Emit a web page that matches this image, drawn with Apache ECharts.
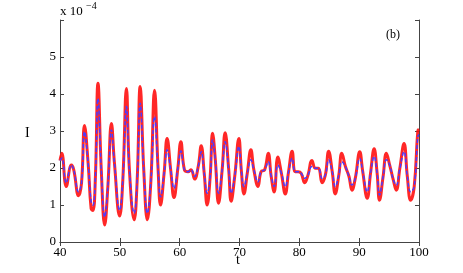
<!DOCTYPE html>
<html><head><meta charset="utf-8">
<script src="https://cdn.jsdelivr.net/npm/echarts@6/dist/echarts.min.js"></script>
<style>html,body{margin:0;padding:0;background:#fff}#c{width:463px;height:273px}</style>
</head><body><div id="c"></div>
<script>
// values in units of 1e-4
var tVals = [40.0,40.3,41.05,41.9,42.3,43.1,43.6,44.1,44.7,45.2,45.5,45.9,46.35,46.9,47.47,48.0,48.6,49.1,49.97,50.5,51.1,51.6,52.4,52.9,53.4,54.0,54.6,55.2,55.8,56.4,56.8,57.4,57.9,58.5,59.05,59.7,60.2,60.8,61.4,61.9,62.5,63.1,63.6,64.1,64.6,65.1,65.5,65.96,66.5,67.1,67.6,68.2,68.6,69.2,69.9,70.3,70.75,71.3,71.9,72.4,73.1,73.6,74.2,74.8,75.3,75.8,76.4,77.0,77.65,78.2,78.8,79.3,79.8,80.3,80.9,81.45,82.1,82.7,83.2,83.8,84.35,84.9,85.5,86.0,86.6,87.1,87.7,88.3,88.8,89.35,90.1,90.6,91.35,91.9,92.5,93.0,93.4,94.0,94.55,95.1,95.7,96.2,96.8,97.5,98.05,98.6,99.2,99.8,100];
var meanVals = [2.2,2.27,1.6,2.08,1.95,1.36,1.6,2.98,2.13,1.09,1.0,1.68,3.88,1.95,0.68,1.5,3.03,2.13,0.86,1.68,3.66,1.95,0.78,1.68,3.75,1.95,0.78,1.68,3.39,1.95,1.22,1.86,2.49,1.95,1.45,2.0,2.46,1.95,1.9,1.95,1.77,2.04,2.44,1.86,1.32,1.77,2.76,2.22,1.32,1.95,2.71,1.95,1.32,1.77,2.58,1.95,1.5,1.86,2.22,1.95,1.63,1.9,1.95,2.17,1.77,1.5,2.08,1.86,1.5,1.9,2.26,1.9,1.9,1.86,1.72,1.81,2.04,1.99,1.99,1.72,1.81,2.22,1.9,1.5,1.81,2.17,2.04,1.77,1.54,1.72,2.26,1.9,1.36,1.86,2.31,1.86,1.27,1.77,2.22,2.08,1.68,1.54,1.99,2.44,1.77,1.36,1.5,2.85,2.9];
var noisyVals = [2.2,2.4,1.5,2.08,1.95,1.25,1.6,3.15,2.13,0.9,0.85,1.68,4.29,1.95,0.46,1.5,3.2,2.13,0.7,1.68,4.15,1.95,0.6,1.68,4.2,1.95,0.6,1.68,4.1,1.95,1.0,1.86,2.8,1.95,1.2,2.0,2.71,1.95,1.9,1.95,1.7,2.04,2.6,1.86,1.0,1.77,2.94,2.22,1.05,1.95,2.95,1.95,1.1,1.77,2.8,1.95,1.3,1.86,2.49,1.95,1.5,1.9,1.95,2.4,1.77,1.35,2.3,1.86,1.3,1.9,2.45,1.9,1.9,1.86,1.6,1.81,2.2,1.99,1.99,1.6,1.81,2.45,1.9,1.3,1.81,2.4,2.04,1.77,1.4,1.72,2.44,1.9,1.18,1.86,2.52,1.86,1.13,1.77,2.4,2.08,1.68,1.4,1.99,2.66,1.77,1.13,1.5,3.0,3.05];
var xTicks = [40,50,60,70,80,90,100];
var yTicks = [0,1,2,3,4,5,6];

function pairs(a,b){return a.map(function(v,i){return [v,b[i]];});}
var font = 'Liberation Serif';
var chart = echarts.init(document.getElementById('c'));
var axisLine = {show:true, lineStyle:{color:'#444', width:1}};
var tick = {show:true, inside:true, length:4, lineStyle:{color:'#444'}};
chart.setOption({
  animation:false,
  grid:{left:60,right:44,top:20,bottom:31},
  xAxis:[
    {type:'value',min:xTicks[0],max:xTicks[xTicks.length-1],interval:10,axisLine:axisLine,axisTick:tick,splitLine:{show:false},
     axisLabel:{color:'#000',fontFamily:font,fontSize:13,margin:4}},
    {type:'value',position:'top',min:40,max:100,interval:10,axisLine:axisLine,axisTick:tick,splitLine:{show:false},axisLabel:{show:false}}
  ],
  yAxis:[
    {type:'value',min:yTicks[0],max:yTicks[yTicks.length-1],interval:1,axisLine:axisLine,axisTick:tick,splitLine:{show:false},
     axisLabel:{color:'#000',fontFamily:font,fontSize:13,margin:4,formatter:function(v){return v>=6?'':String(v);}}},
    {type:'value',position:'right',min:0,max:6,interval:1,axisLine:axisLine,axisTick:tick,splitLine:{show:false},axisLabel:{show:false}}
  ],
  series:[
    {type:'line',data:pairs(tVals,noisyVals),symbol:'none',smooth:0.45,lineStyle:{color:'#ff1010',width:3,opacity:0.9},z:2},
    {type:'line',data:pairs(tVals,meanVals),symbol:'none',smooth:0.45,lineStyle:{color:'#4a3cff',width:1.5,type:[4,2]},z:3}
  ],
  graphic:[
    {type:'text',left:60,top:5,style:{text:'x 10',font:'13px "Liberation Serif"',fill:'#000'}},
    {type:'text',left:86,top:1,style:{text:'−4',font:'10px "Liberation Serif"',fill:'#000'}},
    {type:'text',left:386,top:29,style:{text:'(b)',font:'12px "Liberation Serif"',fill:'#000'}},
    {type:'text',left:25,top:126,style:{text:'I',font:'14px "Liberation Serif"',fill:'#000'}},
    {type:'text',left:236,top:253,style:{text:'t',font:'14px "Liberation Serif"',fill:'#000'}}
  ]
});
</script></body></html>
